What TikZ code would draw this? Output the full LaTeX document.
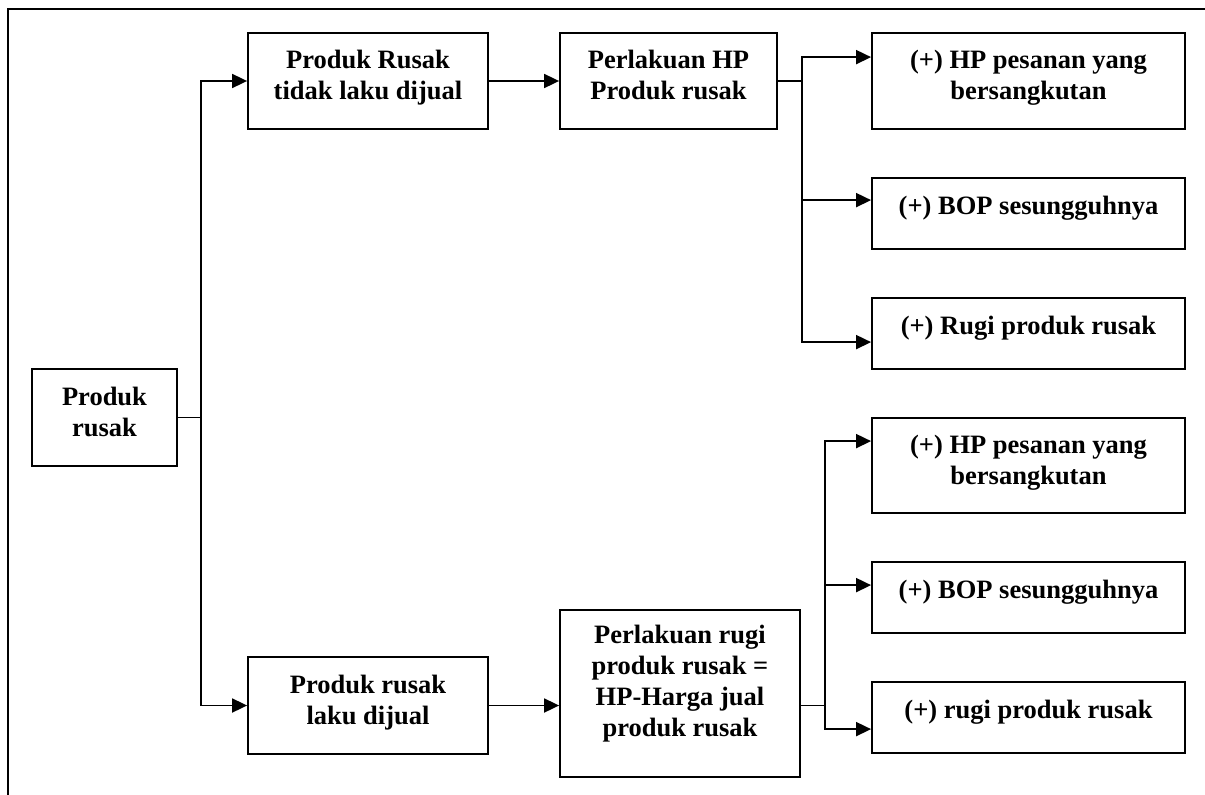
\documentclass[tikz,border=0pt]{standalone}
\usepackage{fontspec}
\setmainfont{Liberation Serif}
\usetikzlibrary{arrows.meta,calc}
\newcommand\tp{\rule{0pt}{20pt}}
\newcommand\bt[1]{\rule[-#1]{0pt}{#1}}
\begin{document}
\begin{tikzpicture}[x=1pt,y=-1pt,
  box/.style={draw,line width=1.8pt,inner sep=0pt,align=center,
    font=\fontsize{26.5}{31}\selectfont\bfseries},
  arr/.style={line width=1.8pt,-{Triangle[length=15pt,width=14pt]}},
  conn/.style={line width=1.8pt}]
\useasboundingbox (0,0) rectangle (1205,795);
% frame
\draw[line width=1.9pt] (1205,9) -- (8,9) -- (8,795);
% nodes
\node[box,minimum width=145pt,minimum height=97pt] (pr) at (104.5,417.5) {\tp Produk\\rusak\bt{14pt}};
\node[box,minimum width=240pt,minimum height=96pt] (A) at (368,81) {\tp Produk Rusak\\tidak laku dijual\bt{14pt}};
\node[box,minimum width=217pt,minimum height=96pt] (B) at (668.5,81) {\tp Perlakuan HP\\Produk rusak\bt{14pt}};
\node[box,minimum width=313pt,minimum height=96pt] (R1) at (1028.5,81) {\tp (+) HP pesanan yang\\bersangkutan\bt{14pt}};
\node[box,minimum width=313pt,minimum height=71pt] (R2) at (1028.5,213.5) {\tp (+) BOP sesungguhnya\bt{18pt}};
\node[box,minimum width=313pt,minimum height=71pt] (R3) at (1028.5,333.5) {\tp (+) Rugi produk rusak\bt{19pt}};
\node[box,minimum width=240pt,minimum height=97pt] (C) at (368,705.5) {\tp Produk rusak\\laku dijual\bt{14pt}};
\node[box,minimum width=240pt,minimum height=167pt] (D) at (680,693.5) {\tp Perlakuan rugi\\produk rusak =\\HP-Harga jual\\produk rusak\bt{28pt}};
\node[box,minimum width=313pt,minimum height=95pt] (L1) at (1028.5,465.5) {\tp (+) HP pesanan yang\\bersangkutan\bt{14pt}};
\node[box,minimum width=313pt,minimum height=71pt] (L2) at (1028.5,597.5) {\tp (+) BOP sesungguhnya\bt{19pt}};
\node[box,minimum width=313pt,minimum height=71pt] (L3) at (1028.5,717.5) {\tp (+) rugi produk rusak\bt{19pt}};
% arrow entry points
\coordinate (r1in) at ($(R1.north west)+(0,25)$);
\coordinate (r2in) at ($(R2.north west)+(0,23)$);
\coordinate (r3in) at ($(R3.north west)+(0,45)$);
\coordinate (l1in) at ($(L1.north west)+(0,24)$);
\coordinate (l2in) at ($(L2.north west)+(0,24)$);
\coordinate (l3in) at ($(L3.north west)+(0,48)$);
% connectors
\draw[arr] (pr.east) -- ++(23,0) |- (A.west);
\draw[arr] (pr.east) -- ++(23,0) |- (C.west);
\draw[arr] (A.east) -- (B.west);
\draw[arr] (B.east) -- ++(24,0) |- (r1in);
\draw[arr] (B.east) -- ++(24,0) |- (r2in);
\draw[arr] (B.east) -- ++(24,0) |- (r3in);
\draw[arr] (C.east) -- (C.east -| D.west);
\draw[arr] (D.east |- C.east) -- ++(24,0) |- (l1in);
\draw[arr] (D.east |- C.east) -- ++(24,0) |- (l2in);
\draw[arr] (D.east |- C.east) -- ++(24,0) |- (l3in);
\end{tikzpicture}
\end{document}
